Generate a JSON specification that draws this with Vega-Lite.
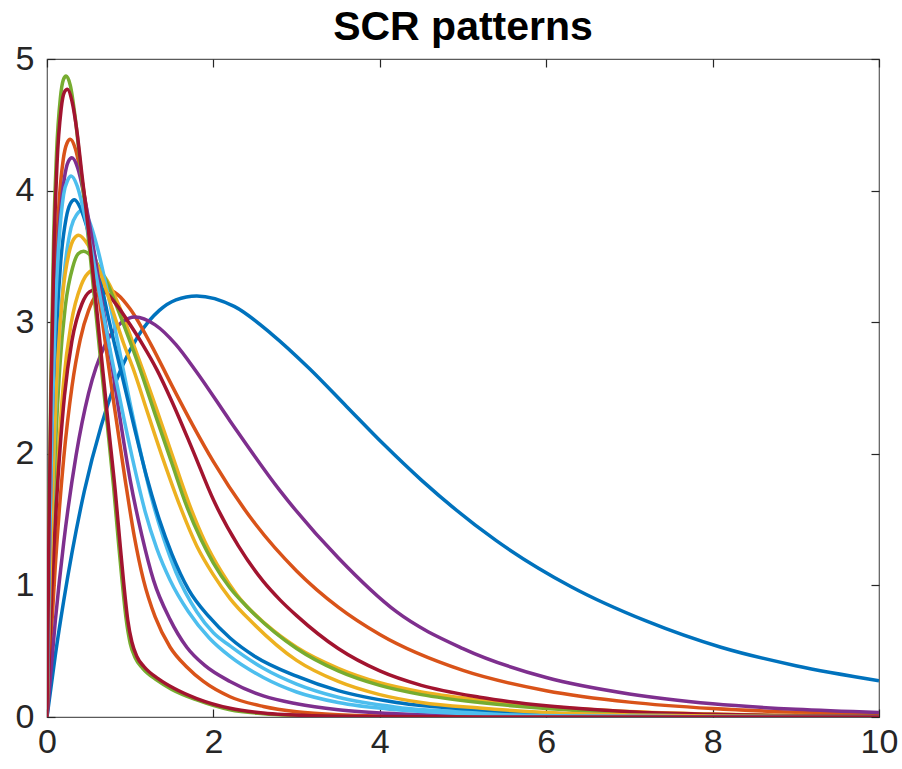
{
  "$schema": "https://vega.github.io/schema/vega-lite/v6.json",
  "width": 832,
  "height": 658,
  "autosize": {"type": "none"},
  "padding": {"left": 47, "top": 59, "right": 23, "bottom": 52},
  "background": "white",
  "title": {"text": "SCR patterns", "fontSize": 41, "font": "Liberation Sans", "fontWeight": "bold", "color": "#000000", "anchor": "middle", "offset": -7},
  "config": {
    "view": {"stroke": "#5a5a5a", "strokeWidth": 1.2},
    "axis": {"domain": false, "grid": false, "ticks": true, "tickSize": -8, "tickColor": "#262626", "tickWidth": 1.2, "labelFont": "Liberation Sans", "labelFontSize": 34, "labelColor": "#262626", "labelFlush": false, "labelOverlap": false, "title": null}
  },
  "data": {"values": [
    {"c":"c01","t":0,"y":0},{"c":"c01","t":0.1,"y":0.47},{"c":"c01","t":0.2,"y":0.88},{"c":"c01","t":0.45,"y":1.72},{"c":"c01","t":0.65,"y":2.21},{"c":"c01","t":0.9,"y":2.66},{"c":"c01","t":1.1,"y":2.9},{"c":"c01","t":1.35,"y":3.09},{"c":"c01","t":1.55,"y":3.17},{"c":"c01","t":1.8,"y":3.2},{"c":"c01","t":2.25,"y":3.12},{"c":"c01","t":2.7,"y":2.91},{"c":"c01","t":3.15,"y":2.65},{"c":"c01","t":3.6,"y":2.36},{"c":"c01","t":4.05,"y":2.07},{"c":"c01","t":4.5,"y":1.8},{"c":"c01","t":5.4,"y":1.34},{"c":"c01","t":6.3,"y":0.99},{"c":"c01","t":7.2,"y":0.73},{"c":"c01","t":8.1,"y":0.53},{"c":"c01","t":9,"y":0.39},{"c":"c01","t":10,"y":0.276},
    {"c":"c02","t":0,"y":0},{"c":"c02","t":0.05,"y":0.62},{"c":"c02","t":0.1,"y":1.15},{"c":"c02","t":0.2,"y":1.96},{"c":"c02","t":0.3,"y":2.51},{"c":"c02","t":0.4,"y":2.87},{"c":"c02","t":0.5,"y":3.09},{"c":"c02","t":0.6,"y":3.21},{"c":"c02","t":0.72,"y":3.25},{"c":"c02","t":0.85,"y":3.21},{"c":"c02","t":1,"y":3.1},{"c":"c02","t":1.25,"y":2.83},{"c":"c02","t":1.5,"y":2.52},{"c":"c02","t":1.75,"y":2.22},{"c":"c02","t":2,"y":1.94},{"c":"c02","t":2.5,"y":1.47},{"c":"c02","t":3,"y":1.11},{"c":"c02","t":3.5,"y":0.835},{"c":"c02","t":4,"y":0.627},{"c":"c02","t":5,"y":0.354},{"c":"c02","t":6,"y":0.2},{"c":"c02","t":7,"y":0.113},{"c":"c02","t":8,"y":0.064},{"c":"c02","t":9,"y":0.036},{"c":"c02","t":10,"y":0.02},
    {"c":"c03","t":0,"y":0},{"c":"c03","t":0.058,"y":1.02},{"c":"c03","t":0.116,"y":1.77},{"c":"c03","t":0.2,"y":2.55},{"c":"c03","t":0.29,"y":2.99},{"c":"c03","t":0.41,"y":3.28},{"c":"c03","t":0.49,"y":3.37},{"c":"c03","t":0.58,"y":3.4},{"c":"c03","t":0.7,"y":3.34},{"c":"c03","t":0.85,"y":3.15},{"c":"c03","t":1,"y":2.9},{"c":"c03","t":1.15,"y":2.64},{"c":"c03","t":1.3,"y":2.37},{"c":"c03","t":1.5,"y":2},{"c":"c03","t":1.72,"y":1.6},{"c":"c03","t":1.9,"y":1.33},{"c":"c03","t":2.1,"y":1.1},{"c":"c03","t":2.28,"y":0.93},{"c":"c03","t":2.64,"y":0.7},{"c":"c03","t":3,"y":0.53},{"c":"c03","t":3.5,"y":0.37},{"c":"c03","t":4,"y":0.26},{"c":"c03","t":4.5,"y":0.19},{"c":"c03","t":5.2,"y":0.13},{"c":"c03","t":6,"y":0.08},{"c":"c03","t":7,"y":0.042},{"c":"c03","t":8,"y":0.022},{"c":"c03","t":10,"y":0.006},
    {"c":"c04","t":0,"y":0},{"c":"c04","t":0.1,"y":0.73},{"c":"c04","t":0.2,"y":1.32},{"c":"c04","t":0.35,"y":1.99},{"c":"c04","t":0.5,"y":2.46},{"c":"c04","t":0.7,"y":2.83},{"c":"c04","t":0.9,"y":3},{"c":"c04","t":1.06,"y":3.04},{"c":"c04","t":1.3,"y":2.98},{"c":"c04","t":1.55,"y":2.83},{"c":"c04","t":1.8,"y":2.62},{"c":"c04","t":2.2,"y":2.25},{"c":"c04","t":2.8,"y":1.72},{"c":"c04","t":3.5,"y":1.21},{"c":"c04","t":4.2,"y":0.8},{"c":"c04","t":5,"y":0.52},{"c":"c04","t":6,"y":0.3},{"c":"c04","t":7,"y":0.175},{"c":"c04","t":8,"y":0.1},{"c":"c04","t":9,"y":0.058},{"c":"c04","t":10,"y":0.034},
    {"c":"c05","t":0,"y":0},{"c":"c05","t":0.044,"y":1.06},{"c":"c05","t":0.088,"y":1.84},{"c":"c05","t":0.154,"y":2.66},{"c":"c05","t":0.22,"y":3.12},{"c":"c05","t":0.31,"y":3.42},{"c":"c05","t":0.375,"y":3.52},{"c":"c05","t":0.44,"y":3.54},{"c":"c05","t":0.55,"y":3.49},{"c":"c05","t":0.7,"y":3.33},{"c":"c05","t":0.85,"y":3.1},{"c":"c05","t":1,"y":2.85},{"c":"c05","t":1.12,"y":2.64},{"c":"c05","t":1.3,"y":2.3},{"c":"c05","t":1.5,"y":1.93},{"c":"c05","t":1.68,"y":1.6},{"c":"c05","t":1.85,"y":1.35},{"c":"c05","t":2,"y":1.17},{"c":"c05","t":2.2,"y":0.98},{"c":"c05","t":2.4,"y":0.84},{"c":"c05","t":3,"y":0.52},{"c":"c05","t":3.5,"y":0.35},{"c":"c05","t":4,"y":0.24},{"c":"c05","t":4.5,"y":0.17},{"c":"c05","t":5.2,"y":0.11},{"c":"c05","t":6,"y":0.065},{"c":"c05","t":7,"y":0.033},{"c":"c05","t":8,"y":0.017},{"c":"c05","t":10,"y":0.004},
    {"c":"c06","t":0,"y":0},{"c":"c06","t":0.042,"y":1.15},{"c":"c06","t":0.084,"y":2},{"c":"c06","t":0.147,"y":2.89},{"c":"c06","t":0.21,"y":3.39},{"c":"c06","t":0.29,"y":3.72},{"c":"c06","t":0.36,"y":3.82},{"c":"c06","t":0.42,"y":3.85},{"c":"c06","t":0.5,"y":3.78},{"c":"c06","t":0.6,"y":3.58},{"c":"c06","t":0.72,"y":3.25},{"c":"c06","t":0.85,"y":2.85},{"c":"c06","t":1,"y":2.38},{"c":"c06","t":1.13,"y":2},{"c":"c06","t":1.25,"y":1.68},{"c":"c06","t":1.4,"y":1.36},{"c":"c06","t":1.55,"y":1.1},{"c":"c06","t":1.8,"y":0.8},{"c":"c06","t":2,"y":0.64},{"c":"c06","t":2.2,"y":0.54},{"c":"c06","t":2.6,"y":0.37},{"c":"c06","t":3,"y":0.25},{"c":"c06","t":3.5,"y":0.15},{"c":"c06","t":4.2,"y":0.075},{"c":"c06","t":5.2,"y":0.035},{"c":"c06","t":6.5,"y":0.012},{"c":"c06","t":8,"y":0.004},{"c":"c06","t":10,"y":0.001},
    {"c":"c07","t":0,"y":0},{"c":"c07","t":0.06,"y":0.98},{"c":"c07","t":0.12,"y":1.69},{"c":"c07","t":0.21,"y":2.44},{"c":"c07","t":0.3,"y":2.86},{"c":"c07","t":0.42,"y":3.14},{"c":"c07","t":0.51,"y":3.23},{"c":"c07","t":0.6,"y":3.25},{"c":"c07","t":0.7,"y":3.23},{"c":"c07","t":0.85,"y":3.12},{"c":"c07","t":1,"y":2.98},{"c":"c07","t":1.15,"y":2.83},{"c":"c07","t":1.32,"y":2.64},{"c":"c07","t":1.5,"y":2.4},{"c":"c07","t":1.75,"y":2.03},{"c":"c07","t":2,"y":1.65},{"c":"c07","t":2.3,"y":1.3},{"c":"c07","t":2.6,"y":1.03},{"c":"c07","t":2.8,"y":0.89},{"c":"c07","t":3,"y":0.77},{"c":"c07","t":3.5,"y":0.52},{"c":"c07","t":4,"y":0.35},{"c":"c07","t":4.5,"y":0.24},{"c":"c07","t":5.2,"y":0.15},{"c":"c07","t":6,"y":0.085},{"c":"c07","t":7,"y":0.04},{"c":"c07","t":8,"y":0.02},{"c":"c07","t":10,"y":0.005},
    {"c":"c08","t":0,"y":0},{"c":"c08","t":0.033,"y":1.18},{"c":"c08","t":0.066,"y":2.04},{"c":"c08","t":0.115,"y":2.95},{"c":"c08","t":0.165,"y":3.46},{"c":"c08","t":0.23,"y":3.79},{"c":"c08","t":0.28,"y":3.9},{"c":"c08","t":0.33,"y":3.93},{"c":"c08","t":0.4,"y":3.87},{"c":"c08","t":0.5,"y":3.68},{"c":"c08","t":0.62,"y":3.38},{"c":"c08","t":0.75,"y":3},{"c":"c08","t":0.9,"y":2.6},{"c":"c08","t":1.05,"y":2.2},{"c":"c08","t":1.2,"y":1.82},{"c":"c08","t":1.35,"y":1.5},{"c":"c08","t":1.5,"y":1.24},{"c":"c08","t":1.7,"y":0.97},{"c":"c08","t":1.95,"y":0.76},{"c":"c08","t":2.2,"y":0.6},{"c":"c08","t":2.5,"y":0.46},{"c":"c08","t":3,"y":0.31},{"c":"c08","t":3.5,"y":0.2},{"c":"c08","t":4.2,"y":0.11},{"c":"c08","t":5.2,"y":0.055},{"c":"c08","t":6.5,"y":0.02},{"c":"c08","t":8,"y":0.007},{"c":"c08","t":10,"y":0.002},
    {"c":"c09","t":0,"y":0},{"c":"c09","t":0.028,"y":1.32},{"c":"c09","t":0.056,"y":2.28},{"c":"c09","t":0.098,"y":3.29},{"c":"c09","t":0.14,"y":3.86},{"c":"c09","t":0.196,"y":4.24},{"c":"c09","t":0.24,"y":4.36},{"c":"c09","t":0.28,"y":4.39},{"c":"c09","t":0.34,"y":4.32},{"c":"c09","t":0.42,"y":4.08},{"c":"c09","t":0.5,"y":3.75},{"c":"c09","t":0.6,"y":3.3},{"c":"c09","t":0.7,"y":2.85},{"c":"c09","t":0.8,"y":2.4},{"c":"c09","t":0.94,"y":1.8},{"c":"c09","t":1.05,"y":1.37},{"c":"c09","t":1.16,"y":1.04},{"c":"c09","t":1.3,"y":0.76},{"c":"c09","t":1.48,"y":0.53},{"c":"c09","t":1.68,"y":0.38},{"c":"c09","t":1.88,"y":0.27},{"c":"c09","t":2.2,"y":0.154},{"c":"c09","t":2.6,"y":0.08},{"c":"c09","t":3,"y":0.04},{"c":"c09","t":3.5,"y":0.018},{"c":"c09","t":4.5,"y":0.004},{"c":"c09","t":6,"y":0.001},{"c":"c09","t":10,"y":0},
    {"c":"c10","t":0,"y":0},{"c":"c10","t":0.038,"y":1.1},{"c":"c10","t":0.076,"y":1.9},{"c":"c10","t":0.133,"y":2.75},{"c":"c10","t":0.19,"y":3.22},{"c":"c10","t":0.266,"y":3.53},{"c":"c10","t":0.32,"y":3.63},{"c":"c10","t":0.38,"y":3.66},{"c":"c10","t":0.5,"y":3.58},{"c":"c10","t":0.65,"y":3.36},{"c":"c10","t":0.8,"y":3.07},{"c":"c10","t":0.92,"y":2.84},{"c":"c10","t":1.04,"y":2.64},{"c":"c10","t":1.2,"y":2.33},{"c":"c10","t":1.4,"y":1.95},{"c":"c10","t":1.6,"y":1.6},{"c":"c10","t":1.8,"y":1.3},{"c":"c10","t":2,"y":1.08},{"c":"c10","t":2.2,"y":0.9},{"c":"c10","t":2.48,"y":0.71},{"c":"c10","t":3,"y":0.43},{"c":"c10","t":3.5,"y":0.27},{"c":"c10","t":4,"y":0.17},{"c":"c10","t":4.5,"y":0.11},{"c":"c10","t":5.2,"y":0.068},{"c":"c10","t":6,"y":0.035},{"c":"c10","t":7,"y":0.016},{"c":"c10","t":8,"y":0.008},{"c":"c10","t":10,"y":0.002},
    {"c":"c11","t":0,"y":0},{"c":"c11","t":0.03,"y":1.28},{"c":"c11","t":0.06,"y":2.21},{"c":"c11","t":0.105,"y":3.19},{"c":"c11","t":0.15,"y":3.74},{"c":"c11","t":0.21,"y":4.1},{"c":"c11","t":0.255,"y":4.22},{"c":"c11","t":0.3,"y":4.25},{"c":"c11","t":0.37,"y":4.17},{"c":"c11","t":0.45,"y":3.95},{"c":"c11","t":0.55,"y":3.6},{"c":"c11","t":0.65,"y":3.2},{"c":"c11","t":0.75,"y":2.8},{"c":"c11","t":0.87,"y":2.3},{"c":"c11","t":1,"y":1.8},{"c":"c11","t":1.14,"y":1.38},{"c":"c11","t":1.28,"y":1.04},{"c":"c11","t":1.48,"y":0.74},{"c":"c11","t":1.68,"y":0.53},{"c":"c11","t":1.9,"y":0.39},{"c":"c11","t":2.2,"y":0.27},{"c":"c11","t":2.6,"y":0.16},{"c":"c11","t":3,"y":0.1},{"c":"c11","t":3.5,"y":0.055},{"c":"c11","t":4.2,"y":0.025},{"c":"c11","t":5.2,"y":0.01},{"c":"c11","t":6.5,"y":0.003},{"c":"c11","t":10,"y":0},
    {"c":"c12","t":0,"y":0},{"c":"c12","t":0.023,"y":1.46},{"c":"c12","t":0.046,"y":2.53},{"c":"c12","t":0.08,"y":3.65},{"c":"c12","t":0.115,"y":4.29},{"c":"c12","t":0.16,"y":4.7},{"c":"c12","t":0.195,"y":4.84},{"c":"c12","t":0.23,"y":4.87},{"c":"c12","t":0.28,"y":4.8},{"c":"c12","t":0.34,"y":4.55},{"c":"c12","t":0.4,"y":4.2},{"c":"c12","t":0.46,"y":3.85},{"c":"c12","t":0.52,"y":3.5},{"c":"c12","t":0.58,"y":3.12},{"c":"c12","t":0.64,"y":2.74},{"c":"c12","t":0.72,"y":2.25},{"c":"c12","t":0.8,"y":1.75},{"c":"c12","t":0.86,"y":1.32},{"c":"c12","t":0.9,"y":1.05},{"c":"c12","t":0.95,"y":0.75},{"c":"c12","t":1,"y":0.56},{"c":"c12","t":1.06,"y":0.45},{"c":"c12","t":1.15,"y":0.37},{"c":"c12","t":1.32,"y":0.28},{"c":"c12","t":1.5,"y":0.21},{"c":"c12","t":1.8,"y":0.13},{"c":"c12","t":2.2,"y":0.055},{"c":"c12","t":2.6,"y":0.025},{"c":"c12","t":3.2,"y":0.008},{"c":"c12","t":4,"y":0.002},{"c":"c12","t":6,"y":0},{"c":"c12","t":10,"y":0},
    {"c":"c13","t":0,"y":0},{"c":"c13","t":0.029,"y":1.23},{"c":"c13","t":0.058,"y":2.14},{"c":"c13","t":0.1,"y":3.08},{"c":"c13","t":0.145,"y":3.62},{"c":"c13","t":0.2,"y":3.97},{"c":"c13","t":0.25,"y":4.08},{"c":"c13","t":0.29,"y":4.11},{"c":"c13","t":0.36,"y":4.04},{"c":"c13","t":0.45,"y":3.82},{"c":"c13","t":0.55,"y":3.5},{"c":"c13","t":0.65,"y":3.15},{"c":"c13","t":0.78,"y":2.72},{"c":"c13","t":0.92,"y":2.28},{"c":"c13","t":1.05,"y":1.9},{"c":"c13","t":1.18,"y":1.56},{"c":"c13","t":1.32,"y":1.28},{"c":"c13","t":1.48,"y":1.04},{"c":"c13","t":1.7,"y":0.8},{"c":"c13","t":1.95,"y":0.6},{"c":"c13","t":2.2,"y":0.46},{"c":"c13","t":2.6,"y":0.3},{"c":"c13","t":3,"y":0.19},{"c":"c13","t":3.5,"y":0.11},{"c":"c13","t":4.2,"y":0.055},{"c":"c13","t":5.2,"y":0.022},{"c":"c13","t":6.5,"y":0.007},{"c":"c13","t":8,"y":0.002},{"c":"c13","t":10,"y":0},
    {"c":"c14","t":0,"y":0},{"c":"c14","t":0.024,"y":1.43},{"c":"c14","t":0.049,"y":2.48},{"c":"c14","t":0.085,"y":3.58},{"c":"c14","t":0.12,"y":4.2},{"c":"c14","t":0.17,"y":4.62},{"c":"c14","t":0.21,"y":4.75},{"c":"c14","t":0.245,"y":4.77},{"c":"c14","t":0.3,"y":4.68},{"c":"c14","t":0.36,"y":4.45},{"c":"c14","t":0.42,"y":4.12},{"c":"c14","t":0.48,"y":3.8},{"c":"c14","t":0.54,"y":3.45},{"c":"c14","t":0.6,"y":3.08},{"c":"c14","t":0.66,"y":2.7},{"c":"c14","t":0.74,"y":2.2},{"c":"c14","t":0.82,"y":1.72},{"c":"c14","t":0.88,"y":1.3},{"c":"c14","t":0.92,"y":1.03},{"c":"c14","t":0.97,"y":0.74},{"c":"c14","t":1.02,"y":0.57},{"c":"c14","t":1.08,"y":0.46},{"c":"c14","t":1.17,"y":0.38},{"c":"c14","t":1.34,"y":0.29},{"c":"c14","t":1.52,"y":0.22},{"c":"c14","t":1.8,"y":0.14},{"c":"c14","t":2.2,"y":0.066},{"c":"c14","t":2.6,"y":0.03},{"c":"c14","t":3.2,"y":0.01},{"c":"c14","t":4,"y":0.003},{"c":"c14","t":6,"y":0},{"c":"c14","t":10,"y":0}
  ]},
  "layer": [
    {
      "mark": {"type": "line", "interpolate": "monotone", "strokeWidth": 3.5, "clip": true},
      "encoding": {
        "x": {"field": "t", "type": "quantitative", "scale": {"domain": [0, 10], "nice": false, "zero": false}, "axis": {"orient": "bottom", "values": [0, 2, 4, 6, 8, 10], "labelPadding": 16}},
        "y": {"field": "y", "type": "quantitative", "scale": {"domain": [0, 5], "nice": false, "zero": false}, "axis": {"orient": "left", "values": [0, 1, 2, 3, 4, 5], "labelPadding": 21}},
        "color": {"field": "c", "type": "nominal", "legend": null, "scale": {"domain": ["c01","c02","c03","c04","c05","c06","c07","c08","c09","c10","c11","c12","c13","c14"], "range": ["#0072BD","#D95319","#EDB120","#7E2F8E","#77AC30","#4DBEEE","#A2142F","#0072BD","#D95319","#EDB120","#7E2F8E","#77AC30","#4DBEEE","#A2142F"]}},
        "order": {"field": "t", "type": "quantitative"}
      }
    },
    {
      "data": {"values": [{"t": 0, "y": 0}]},
      "mark": {"type": "point", "opacity": 0},
      "encoding": {
        "x": {"field": "t", "type": "quantitative", "scale": {"domain": [0, 10], "nice": false, "zero": false}, "axis": {"orient": "top", "values": [0, 2, 4, 6, 8, 10], "labels": false}},
        "y": {"field": "y", "type": "quantitative", "scale": {"domain": [0, 5], "nice": false, "zero": false}, "axis": {"orient": "right", "values": [0, 1, 2, 3, 4, 5], "labels": false}}
      }
    }
  ],
  "resolve": {"scale": {"x": "independent", "y": "independent"}, "axis": {"x": "independent", "y": "independent"}}
}
